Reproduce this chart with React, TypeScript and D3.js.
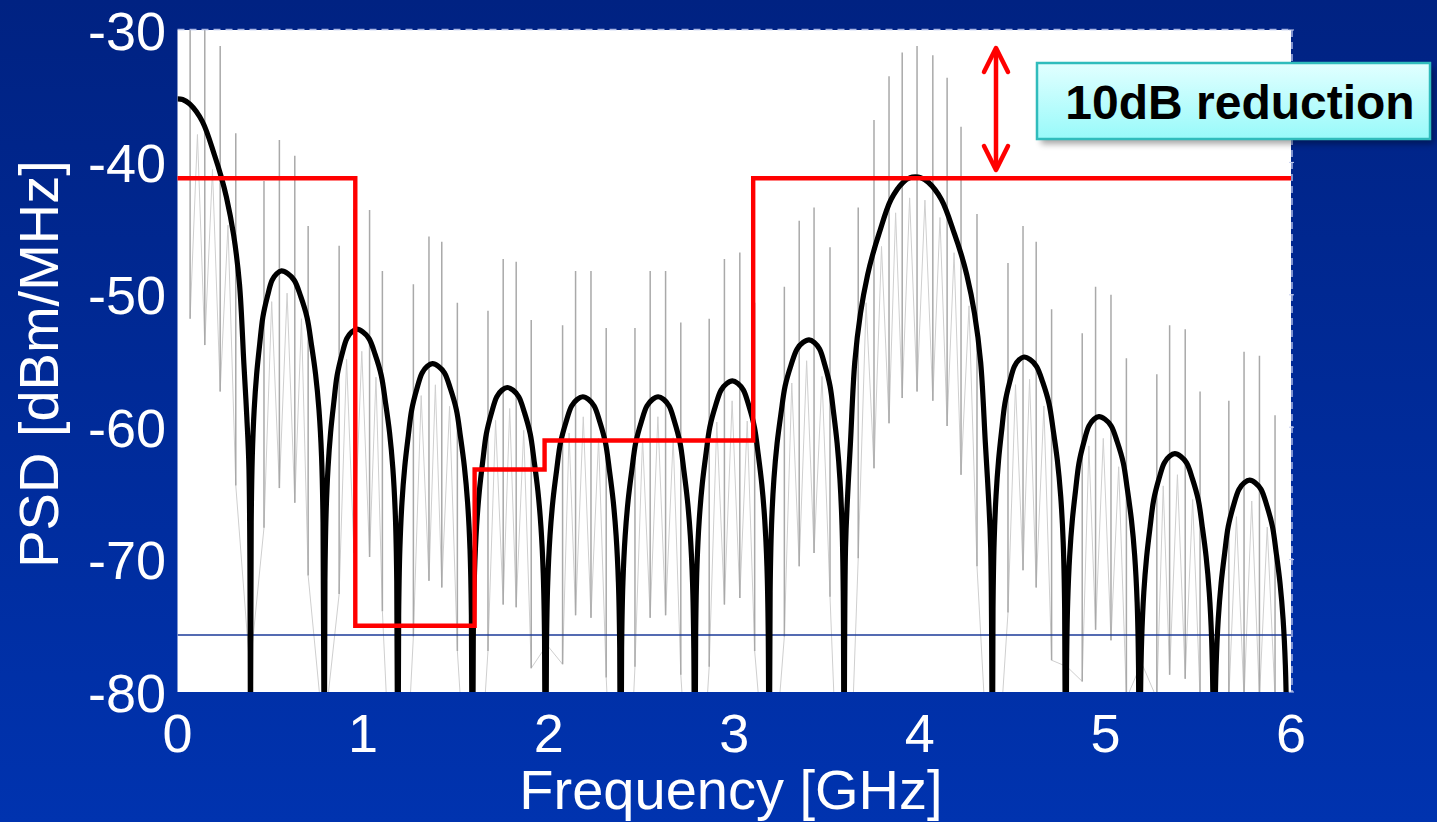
import React from "react";
import * as d3 from "d3";

// ---------- data ----------
const X_TICKS = [0, 1, 2, 3, 4, 5, 6];
const Y_TICKS = [-30, -40, -50, -60, -70, -80];

// black envelope: one entry per lobe (GHz, dBm/MHz)
const LOBE_START = [0, 0.393, 0.79, 1.187, 1.589, 1.983, 2.388, 2.787, 3.188, 3.592, 4.39, 4.786, 5.184, 5.585];
const LOBE_PEAK_X = [0, 0.56, 0.965, 1.374, 1.777, 2.184, 2.59, 2.99, 3.403, 3.975, 4.561, 4.965, 5.374, 5.777];
const LOBE_PEAK_DB = [-35.2, -48.2, -52.6, -55.2, -57.0, -57.7, -57.7, -56.5, -53.4, -41.1, -54.7, -59.2, -62.0, -64.0];
const LOBE_END = [0.393, 0.79, 1.187, 1.589, 1.983, 2.388, 2.787, 3.188, 3.592, 4.39, 4.786, 5.184, 5.585, 5.982];
const LOBE_KIND = ["main", "side", "side", "side", "side", "side", "side", "side", "side", "main", "side", "side", "side", "side"];

// lobe outline: fraction of the way from peak to null -> dB below peak
const MAIN_U = [0, 0.07, 0.17, 0.34, 0.51, 0.6, 0.67, 0.77, 0.85, 0.91, 0.95, 0.98, 1.0];
const MAIN_DROP = [0, 0.05, 0.4, 1.7, 4.3, 5.9, 7.4, 10.3, 14, 20, 24, 28, 50];
const SIDE_U = [0, 0.15, 0.3, 0.45, 0.6, 0.7, 0.8, 0.88, 0.94, 0.975, 1.0];
const SIDE_DROP = [0, 0.2, 0.7, 1.9, 3.5, 5.5, 7.8, 10.5, 14, 19, 45];

// grey spectral lines
const SPIKE_X = [
  0.068, 0.147, 0.23, 0.314,
  0.466, 0.549, 0.632, 0.704,
  0.871, 0.951, 1.035, 1.104,
  1.271, 1.355, 1.424, 1.508,
  1.673, 1.755, 1.825, 1.906,
  2.075, 2.145, 2.228, 2.31,
  2.465, 2.547, 2.63, 2.712,
  2.865, 2.947, 3.03, 3.11,
  3.27, 3.35, 3.43, 3.516,
  3.668, 3.753, 3.834, 3.905, 3.985, 4.07, 4.147, 4.222, 4.308,
  4.475, 4.556, 4.627, 4.71,
  4.875, 4.947, 5.03, 5.113,
  5.277, 5.346, 5.43, 5.51,
  5.665, 5.747, 5.83, 5.914,
];
const SPIKE_TOP = [
  -29, -29, -31.2, -37.8,
  -41.4, -38.3, -39.5, -44.8,
  -46.3, -43.5, -43.6, -48.2,
  -49.2, -45.6, -46.0, -50.6,
  -51.2, -47.3, -47.5, -51.9,
  -52.3, -48.2, -48.2, -52.5,
  -52.5, -48.2, -48.2, -52.1,
  -51.8, -47.3, -46.8, -50.6,
  -49.4, -44.4, -43.4, -46.4,
  -43.4, -36.8, -33.5, -31.7, -31.2, -31.9, -33.6, -37.3, -43.9,
  -47.6, -44.8, -46.0, -51.1,
  -52.9, -49.4, -50.0, -54.8,
  -56.0, -52.3, -52.6, -57.3,
  -58.0, -54.3, -54.6, -59.1,
];
const SPIKE_BOTTOM = [
  -51.8, -53.8, -57.3, -64.4,
  -67.6, -64.6, -65.7, -71.2,
  -72.6, -69.5, -69.8, -73.9,
  -75.8, -71.6, -72.1, -76.9,
  -76.9, -73.4, -73.6, -78.2,
  -77.9, -74.2, -74.4, -78.9,
  -78.1, -74.4, -74.2, -78.7,
  -78.1, -73.4, -72.9, -76.9,
  -75.8, -70.5, -69.5, -72.8,
  -69.9, -63.1, -59.7, -57.8, -57.3, -58.0, -59.9, -63.6, -70.5,
  -74.0, -70.8, -72.1, -77.6,
  -79.2, -75.3, -76.1, -80.5,
  -80.5, -78.7, -79.0, -80.5,
  -80.5, -80.5, -80.5, -80.5,
];

// red spectral mask (step edges)
const MASK_F = [0, 0.958, 0.958, 1.601, 1.601, 1.978, 1.978, 3.102, 3.102, 6.0];
const MASK_DB = [-41.2, -41.2, -75.0, -75.0, -63.2, -63.2, -61.0, -61.0, -41.2, -41.2];

const FLOOR_DB = -75.7;
const ANNOTATION = "10dB reduction";
const X_TITLE = "Frequency [GHz]";
const Y_TITLE = "PSD [dBm/MHz]";

// ---------- layout ----------
const W = 1437;
const H = 822;
const L = 177.5, R = 1291, T = 30, B = 692;
const FONT = "'Liberation Sans', Arial, Helvetica, sans-serif";

export default function App() {
  const x = d3.scaleLinear().domain([0, 6]).range([L, R]);
  const y = d3.scaleLinear().domain([-80, -30]).range([B, T]);

  // envelope points
  const env: [number, number][] = [];
  LOBE_START.forEach((s, i) => {
    const px = LOBE_PEAK_X[i], pk = LOBE_PEAK_DB[i], e = LOBE_END[i];
    const U = LOBE_KIND[i] === "main" ? MAIN_U : SIDE_U;
    const D = LOBE_KIND[i] === "main" ? MAIN_DROP : SIDE_DROP;
    if (px > s) {
      for (let k = U.length - 1; k > 0; k--) env.push([px - U[k] * (px - s), pk - D[k]]);
    }
    for (let k = 0; k < U.length; k++) env.push([px + U[k] * (e - px), pk - D[k]]);
  });
  const envLine = d3
    .line<[number, number]>()
    .x((d) => x(d[0]))
    .y((d) => y(d[1]))
    .curve(d3.curveCatmullRom.alpha(0.5));

  const envAt = (f: number) => {
    const bis = d3.bisector((d: [number, number]) => d[0]).left;
    const i = bis(env, f);
    if (i <= 0) return env[0][1];
    if (i >= env.length) return env[env.length - 1][1];
    const a = env[i - 1], b = env[i];
    const t = b[0] === a[0] ? 0 : (f - a[0]) / (b[0] - a[0]);
    return a[1] + t * (b[1] - a[1]);
  };

  // faint zig-zag of the fine trace
  const zig: [number, number][] = [];
  SPIKE_X.forEach((f, i) => {
    zig.push([f, SPIKE_BOTTOM[i]]);
    const nf = SPIKE_X[i + 1];
    if (nf !== undefined) {
      const m = (f + nf) / 2;
      zig.push([m, envAt(m) - 1.5]);
    }
  });
  const zigLine = d3
    .line<[number, number]>()
    .x((d) => x(d[0]))
    .y((d) => y(d[1]));

  const maskPts: [number, number][] = MASK_F.map((f, i) => [f, MASK_DB[i]]);
  const maskLine = d3
    .line<[number, number]>()
    .x((d) => x(d[0]))
    .y((d) => y(d[1]));

  const arrowX = 996;
  const arrowTop = 48;
  const arrowBot = 170;

  return (
    <svg
      width={W}
      height={H}
      viewBox={`0 0 ${W} ${H}`}
      style={{ position: "absolute", left: 0, top: 0, display: "block" }}
    >
      <defs>
        <linearGradient id="bg" x1="0" y1="0" x2="0" y2="1">
          <stop offset="0" stopColor="#002282" />
          <stop offset="1" stopColor="#0033af" />
        </linearGradient>
        <linearGradient id="box" x1="0" y1="0" x2="0" y2="1">
          <stop offset="0" stopColor="#e2ffff" />
          <stop offset="1" stopColor="#98fafa" />
        </linearGradient>
        <clipPath id="plot">
          <rect x={L} y={T} width={R - L} height={B - T} />
        </clipPath>
        <filter id="shadow" x="-10%" y="-10%" width="130%" height="150%">
          <feGaussianBlur stdDeviation="3" />
        </filter>
      </defs>

      <rect x={0} y={0} width={W} height={H} fill="url(#bg)" />
      <rect x={L} y={T} width={R - L} height={B - T} fill="#ffffff" />

      <g clipPath="url(#plot)">
        {/* faint zig-zag */}
        <path d={zigLine(zig) || ""} fill="none" stroke="#cfcfcf" strokeWidth={1} />
        {/* grey spectral lines */}
        {SPIKE_X.map((f, i) => (
          <line
            key={i}
            x1={x(f)}
            x2={x(f)}
            y1={y(SPIKE_TOP[i])}
            y2={y(SPIKE_BOTTOM[i])}
            stroke="#a9a9a9"
            strokeWidth={1.5}
          />
        ))}
        {/* floor line */}
        <line x1={L} x2={R} y1={y(FLOOR_DB)} y2={y(FLOOR_DB)} stroke="#1b3a98" strokeWidth={1.5} />
        {/* envelope */}
        <path
          d={envLine(env) || ""}
          fill="none"
          stroke="#000000"
          strokeWidth={5.2}
          strokeLinejoin="round"
        />
      </g>

      {/* red mask */}
      <path
        d={maskLine(maskPts) || ""}
        fill="none"
        stroke="#ff0000"
        strokeWidth={4.4}
        strokeLinejoin="miter"
      />

      {/* dashed frame top / right */}
      <line x1={L} x2={R + 1} y1={T - 0.5} y2={T - 0.5} stroke="#a9b6e4" strokeWidth={1.5} strokeDasharray="7 5" />
      <line x1={R + 1} x2={R + 1} y1={T} y2={B} stroke="#a9b6e4" strokeWidth={1.5} strokeDasharray="7 5" />
      {Y_TICKS.map((v) => (
        <line key={"rt" + v} x1={R - 2} x2={R + 3} y1={y(v)} y2={y(v)} stroke="#c8d0f0" strokeWidth={1} />
      ))}

      {/* y tick labels */}
      {Y_TICKS.map((v) => (
        <text
          key={"y" + v}
          x={166}
          y={y(v) + 19.5}
          textAnchor="end"
          fill="#ffffff"
          fontFamily={FONT}
          fontSize={54}
        >
          {String(v)}
        </text>
      ))}
      {/* x tick labels */}
      {X_TICKS.map((v) => (
        <text
          key={"x" + v}
          x={x(v)}
          y={752}
          textAnchor="middle"
          fill="#ffffff"
          fontFamily={FONT}
          fontSize={54}
        >
          {String(v)}
        </text>
      ))}

      {/* axis titles */}
      <text x={731} y={809} textAnchor="middle" fill="#ffffff" fontFamily={FONT} fontSize={56}>
        {X_TITLE}
      </text>
      <text
        transform={`translate(58,364) rotate(-90)`}
        textAnchor="middle"
        fill="#ffffff"
        fontFamily={FONT}
        fontSize={56}
      >
        {Y_TITLE}
      </text>

      {/* red double arrow */}
      <g stroke="#ff0000" strokeWidth={4.5} fill="none" strokeLinecap="round" strokeLinejoin="round">
        <line x1={arrowX} x2={arrowX} y1={arrowTop + 2} y2={arrowBot - 2} />
        <polyline points={`${arrowX - 12},${arrowTop + 24} ${arrowX},${arrowTop} ${arrowX + 12},${arrowTop + 24}`} />
        <polyline points={`${arrowX - 12},${arrowBot - 24} ${arrowX},${arrowBot} ${arrowX + 12},${arrowBot - 24}`} />
      </g>

      {/* annotation box */}
      <rect x={1041} y={68} width={393} height={76} fill="#000000" opacity={0.35} filter="url(#shadow)" />
      <rect x={1037} y={63} width={393} height={76} fill="url(#box)" stroke="#30bcbc" strokeWidth={2.5} />
      <text
        x={1240}
        y={119}
        textAnchor="middle"
        fill="#000000"
        fontFamily={FONT}
        fontWeight="bold"
        fontSize={48}
      >
        {ANNOTATION}
      </text>
    </svg>
  );
}
